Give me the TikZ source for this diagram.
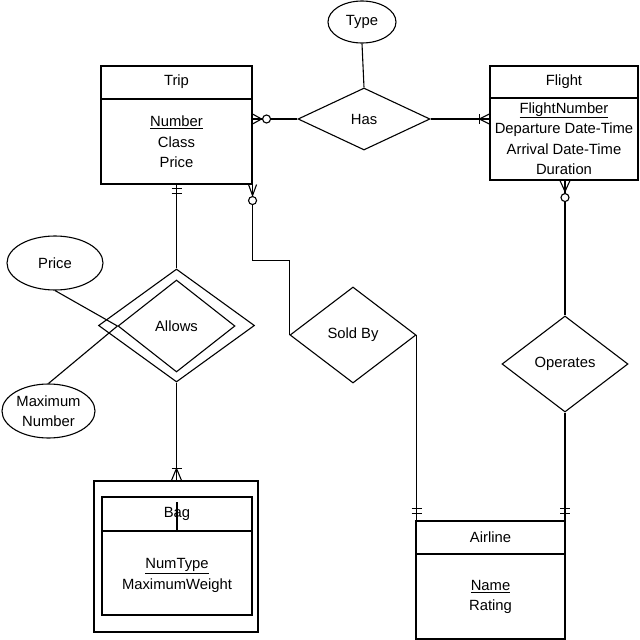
\documentclass[tikz,border=0pt]{standalone}
\usepackage{fontspec}
\setmainfont{Liberation Sans}
\usetikzlibrary{shapes.geometric,calc}
\begin{document}
\begin{tikzpicture}[x=1pt,y=-1pt, line width=1.1pt,
  every node/.style={font=\fontsize{14.8}{20.5}\selectfont},
  entbox/.style={draw, rectangle, inner sep=0pt},
  reln/.style={draw, diamond, inner sep=0pt},
  attr/.style={draw, ellipse, inner sep=0pt},
  txt/.style={align=center, inner sep=0pt},
  hollow/.style={draw, fill=white}]
\useasboundingbox (0,0) rectangle (640,640);

% ---------- entities ----------
\node[entbox, minimum width=151pt, minimum height=118pt] (trip) at (176.5,125) {};
\draw (101,99) -- (252,99);
\node[txt] (tripT) at (176.5,82) {Trip};
\node[txt] (tripB) at (176.5,142) {\underline{Number}\\Class\\Price};

\node[entbox, minimum width=148pt, minimum height=114pt] (flight) at (564,123) {};
\draw (490,98) -- (638,98);
\node[txt] (flightT) at (564,82) {Flight};
\node[txt] (flightB) at (564,138.5) {\underline{FlightNumber}\\Departure Date-Time\\Arrival Date-Time\\Duration};

\node[entbox, minimum width=149pt, minimum height=118pt] (airline) at (490.5,580) {};
\draw (416,554) -- (565,554);
\node[txt] (airlineT) at (490.5,537) {Airline};
\node[txt] (airlineB) at (490.5,597) {\underline{Name}\\Rating};

\node[entbox, minimum width=164pt, minimum height=151pt] (bagOut) at (176,556.5) {};
\node[entbox, minimum width=150pt, minimum height=118pt] (bagIn) at (177,556) {};
\draw (102,531) -- (252,531);
\node[txt] (bagT) at (177,514) {Bag};
\node[txt] (bagB) at (177,575.5) {\underline{NumType}\\MaximumWeight};

% ---------- relationships ----------
\node[reln, minimum width=132pt, minimum height=62pt] (has) at (364,119) {Has};
\node[reln, minimum width=126pt, minimum height=96pt] (soldby) at (353,335) {Sold By};
\node[reln, minimum width=126pt, minimum height=96pt] (operates) at (565,364) {Operates};
\node[reln, minimum width=156pt, minimum height=113pt] (allowsOut) at (176.5,325.5) {};
\node[reln, minimum width=117pt, minimum height=92pt] (allowsIn) at (176.5,326) {Allows};

% ---------- attributes ----------
\node[attr, minimum width=68pt, minimum height=42pt] (type) at (362,22) {Type};
\node[attr, minimum width=96pt, minimum height=54pt] (price) at (55,263) {Price};
\node[attr, minimum width=93pt, minimum height=54pt, txt] (maxnum) at (48.5,411) {Maximum\\Number};

% ---------- connectors ----------
\draw (type.south) -- (has.north);
\draw (price.south) -- (allowsIn.west);
\draw (maxnum.north) -- (allowsIn.west);

% Trip -- Has (zero or many at Trip)
\coordinate (tH) at (has.west -| trip.east);
\draw (tH) -- (has.west);
\draw ($(tH)+(0,-5)$) -- ($(tH)+(9,0)$) -- ($(tH)+(0,5)$);
\draw[hollow] ($(tH)+(14,0)$) circle[radius=4pt];

% Has -- Flight (one or many at Flight)
\coordinate (fH) at (has.east -| flight.west);
\draw (has.east) -- (fH);
\draw ($(fH)+(0,-5)$) -- ($(fH)+(-10,0)$) -- ($(fH)+(0,5)$);
\draw ($(fH)+(-10,-5)$) -- ($(fH)+(-10,5)$);

% Trip -- Allows (exactly one at Trip)
\coordinate (tA) at (allowsOut.north |- trip.south);
\draw (tA) -- (allowsOut.north);
\draw ($(tA)+(-5,4)$) -- ($(tA)+(5,4)$);
\draw ($(tA)+(-5,9)$) -- ($(tA)+(5,9)$);

% Allows -- Bag (one or many at Bag)
\coordinate (aB) at (allowsOut.south |- bagOut.north);
\draw (allowsOut.south) -- (aB);
\draw ($(aB)+(-5,0)$) -- ($(aB)+(0,-12)$) -- ($(aB)+(5,0)$);
\draw ($(aB)+(-5,-12)$) -- ($(aB)+(5,-12)$);
\coordinate (bagL) at ($(bagIn.north)+(0,6)$);
\draw (bagL) -- (bagL |- 0,531);

% Trip -- Sold By (zero or many at Trip)
\coordinate (tS) at (trip.south east);
\draw (tS) -- ($(tS)+(0,76)$) -| (soldby.west);
\draw ($(tS)+(-4,0)$) -- ($(tS)+(0,11)$) -- ($(tS)+(4,0)$);
\draw[hollow] ($(tS)+(0,16)$) circle[radius=4pt];

% Sold By -- Airline (exactly one at Airline)
\coordinate (sA) at (soldby.east |- airline.north);
\draw (soldby.east) -- (sA);
\draw ($(sA)+(-5,-12)$) -- ($(sA)+(5,-12)$);
\draw ($(sA)+(-5,-7)$) -- ($(sA)+(5,-7)$);

% Flight -- Operates (zero or many at Flight)
\coordinate (fO) at (operates.north |- flight.south);
\draw (fO) -- (operates.north);
\draw ($(fO)+(-5,0)$) -- ($(fO)+(0,11)$) -- ($(fO)+(5,0)$);
\draw[hollow] ($(fO)+(0,17)$) circle[radius=4pt];

% Operates -- Airline (exactly one at Airline)
\coordinate (oA) at (operates.south |- airline.north);
\draw (operates.south) -- (oA);
\draw ($(oA)+(-5,-12)$) -- ($(oA)+(5,-12)$);
\draw ($(oA)+(-5,-7)$) -- ($(oA)+(5,-7)$);
\end{tikzpicture}
\end{document}
